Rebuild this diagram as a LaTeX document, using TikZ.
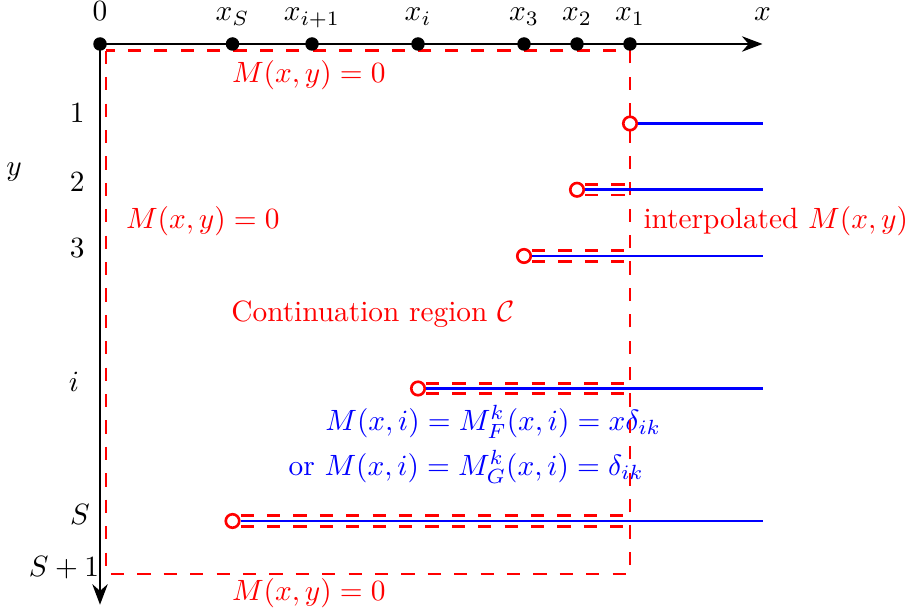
\documentclass[tikz,border=0pt]{standalone}
\usepackage{amsmath}
\usetikzlibrary{arrows.meta,positioning}

\begin{document}
\begin{tikzpicture}[x=0.635cm,y=0.635cm,
    dot/.style={circle,fill=black,inner sep=0pt,minimum size=4.6pt},
    opendot/.style={circle,draw=red,line width=0.9pt,fill=white,inner sep=0pt,minimum size=4.6pt},
    bnd/.style={red,line width=0.95pt,dash pattern=on 4.5pt off 4.5pt},
    valline/.style={blue,line width=0.9pt},
    redtxt/.style={text=red},
    bluetxt/.style={text=blue}]
\useasboundingbox (-1.887,0.83) rectangle (15.34,-10.79);

% Texts inside the region
\node[redtxt] (top0) at (3.94,-0.58) {$M(x,y)=0$};
\node[redtxt] (left0) at (1.94,-3.34) {$M(x,y)=0$};
\node[redtxt] (bot0) at (3.94,-10.36) {$M(x,y)=0$};
\node[redtxt] (cont) at (5.15,-5.09) {Continuation region $\mathcal{C}$};
\node[redtxt] (interp) at (12.75,-3.34) {interpolated $M(x,y)$};
\node[bluetxt] (mf) at (7.42,-7.13) {$M(x,i)=M_F^k(x,i)=x\delta_{ik}$};
\node[bluetxt] (mg) at (6.91,-7.98) {or $M(x,i)=M_G^k(x,i)=\delta_{ik}$};

% Continuation region boundary
\draw[bnd] (0.113,-0.13) rectangle (10,-10);

% Row 1
\node[opendot] (r1) at (10,-1.5) {};
\coordinate (e1) at (12.5,-1.5);
\draw[valline] (r1) -- (e1);

% Other rows
\foreach \y/\xc/\name in {-2.75/9/r2, -4/8/r3, -6.5/6/ri, -9/2.5/rS}{
  \node[opendot] (\name) at (\xc,\y) {};
  \coordinate (e\name) at (12.5,\y);
  \draw[valline] (\name) -- (e\name);
  \draw[bnd] ([yshift=1.8pt]\name.east) -- ([yshift=1.8pt]10,\y);
  \draw[bnd] ([yshift=-1.8pt]\name.east) -- ([yshift=-1.8pt]10,\y);
}

% Axes
\coordinate (O) at (0,0);
\coordinate (xend) at (12.5,0);
\coordinate (yend) at (0,-10.58);
\draw[thick,-{Stealth[length=7pt]}] (O) -- (xend);
\draw[thick,-{Stealth[length=7pt]}] (O) -- (yend);
\node[anchor=base] (xlab) at (12.5,0.44) {$x$};
\node (ylab) at (-1.62,-2.42) {$y$};

% Points on the x axis
\foreach \pos/\name/\lab in {0/o/0, 2.5/xS/x_S, 4/xip/x_{i+1}, 6/xi/x_i, 8/x3/x_3, 9/x2/x_2, 10/x1/x_1}{
  \node[dot] (\name) at (\pos,0) {};
  \node[anchor=base] (l\name) at (\pos,0.44) {$\lab$};
}

% Row labels
\node (y1) at (-0.43,-1.30) {$1$};
\node (y2) at (-0.43,-2.60) {$2$};
\node (y3) at (-0.43,-3.85) {$3$};
\node (yi) at (-0.49,-6.38) {$i$};
\node (yS) at (-0.38,-8.87) {$S$};
\node (yS1) at (-0.68,-9.89) {$S+1$};

\end{tikzpicture}
\end{document}
